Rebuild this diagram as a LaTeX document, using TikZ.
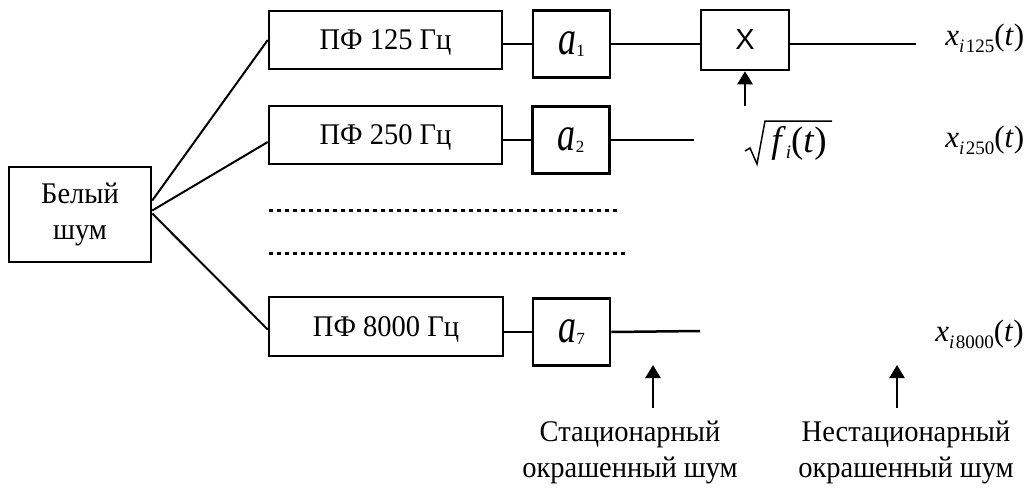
\documentclass[tikz,border=0pt]{standalone}
\usepackage{fontspec}
\setmainfont{Liberation Serif}[FakeStretch=0.95]
\newfontfamily\tnr{Liberation Serif}
\newfontfamily\arialf{Liberation Sans}
\usetikzlibrary{arrows.meta,calc}
\newcommand\xsig[1]{\tnr\textit{x}\raisebox{-7pt}{\fontsize{19}{19}\selectfont\textit{i}\hspace{1.5pt}#1}(\textit{t})}
\newcommand\acoef[1]{\tnr\scalebox{1}[1.35]{\fontsize{36}{36}\selectfont\textit{a}}\raisebox{-2pt}{\fontsize{17}{17}\selectfont #1}}
\begin{document}
\begin{tikzpicture}[x=1pt,y=-1pt,line width=2.5pt,
  box/.style={draw,line width=2.5pt,inner sep=0pt,align=center,font=\fontsize{30}{36}\selectfont},
  pfbox/.style={box,minimum width=233pt,minimum height=58pt,text depth=0pt},
  abox/.style={draw,line width=2.5pt,inner sep=0pt,minimum width=77pt,minimum height=67pt},
  lbl/.style={inner sep=0pt,align=center,font=\fontsize{30}{36}\selectfont},
  sig/.style={inner sep=0pt,anchor=west,font=\fontsize{31}{31}\selectfont},
  diag/.style={line width=2pt},
  arr/.style={-{Triangle[length=13pt,width=15pt]},line width=2.5pt},
  dotline/.style={line width=3pt,dash pattern=on 4pt off 4pt}]
\useasboundingbox (0,0) rectangle (1036,488);
% boxes
\node[box,minimum width=142pt,minimum height=95pt] (wn) at (80,214.5) {Белый\\шум};
\node[pfbox] (pf1) at (385.5,40) {ПФ 125 Гц};
\node[pfbox] (pf2) at (385.5,135) {ПФ 250 Гц};
\node[pfbox,minimum width=234pt,minimum height=59pt] (pf3) at (386,326.5) {ПФ 8000 Гц};
\node[abox] (a1) at (571.5,44) {\acoef{1}};
\node[abox] (a2) at (571,140) {\acoef{2}};
\node[abox] (a7) at (571.5,332) {\acoef{7}};
\node[box,minimum width=88pt,minimum height=60pt,font=\arialf\fontsize{29}{29}\selectfont] (mx) at (745,40) {X};
% outputs
\node[sig] (x1) at (944,38) {\xsig{125}};
\node[sig] (x2) at (944,140) {\xsig{250}};
\node[sig] (x3) at (934,334) {\xsig{8000}};
\node[inner sep=0pt,font=\tnr\fontsize{37}{37}\selectfont] (sq) at (799,143) {\textit{f}\raisebox{-6pt}{\fontsize{19}{19}\selectfont\textit{i}}(\textit{t})};
\draw[line width=1.5pt,line join=miter] (745,151) -- (750,148) -- (757,164) -- (765,121) -- (832,121);
% labels
\node[lbl] (st) at (630,452) {Стационарный\\окрашенный шум};
\node[lbl] (nst) at (906,452) {Нестационарный\\окрашенный шум};
% connectors
\draw[diag] ([yshift=14pt]wn.east) -- (pf1.west);
\draw[diag] ([yshift=4pt]wn.east) -- ([yshift=-7pt]pf2.west);
\draw[diag] ([yshift=1pt]wn.east) -- ([yshift=-3pt]pf3.west);
\draw (pf1.east |- a1.west) -- (a1.west);
\draw (pf2.east |- a2.west) -- (a2.west);
\draw (pf3.east |- a7.west) -- (a7.west);
\draw (a1.east) -- (a1.east -| mx.west);
\coordinate (o1) at (916,44);
\draw (mx.east |- o1) -- (o1);
\coordinate (o2) at (694,140);
\draw (a2.east) -- (o2);
\coordinate (o3) at (700,331);
\draw (a7.east) -- (o3);
\coordinate (sqa) at (745,106);
\draw[arr] (sqa) -- (mx.south);
\coordinate (sta) at (653,408);
\coordinate (stb) at (653,365);
\draw[arr] (sta) -- (stb);
\coordinate (nsa) at (897,408);
\coordinate (nsb) at (897,365);
\draw[arr] (nsa) -- (nsb);
% dotted rows
\draw[dotline] (269,210) -- (617,210);
\draw[dotline] (269,253) -- (628,253);
\end{tikzpicture}
\end{document}
